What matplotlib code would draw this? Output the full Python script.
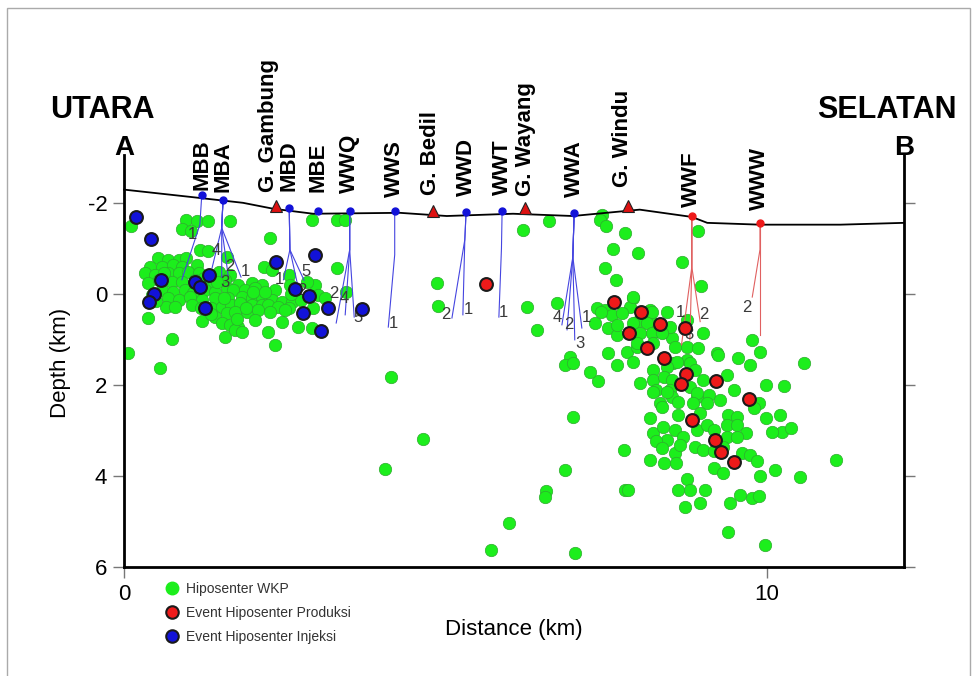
import matplotlib.pyplot as plt
from matplotlib.lines import Line2D
from matplotlib.patches import Rectangle

plt.rcParams['font.family'] = ['Liberation Sans', 'DejaVu Sans']
plt.rcParams['axes.unicode_minus'] = False

# surface profile along section A-B (distance km, depth km; negative = above datum)
topo_x = [0, 1.03, 1.85, 2.32, 2.94, 4.29, 5.02, 6.05, 6.98, 8.02, 8.83, 9.07, 9.89, 11.14, 12.13]
topo_z = [-2.29, -2.13, -2.0, -1.87, -1.76, -1.78, -1.71, -1.76, -1.71, -1.85, -1.69, -1.56, -1.52, -1.52, -1.56]

# well pads
well_names = ['MBB', 'MBA', 'MBD', 'MBE', 'WWQ', 'WWS', 'WWD', 'WWT', 'WWA', 'WWF', 'WWW']
well_x = [1.21, 1.54, 2.57, 3.02, 3.51, 4.21, 5.32, 5.88, 7.00, 8.83, 9.89]
well_z = [-2.18, -2.07, -1.89, -1.82, -1.82, -1.82, -1.80, -1.82, -1.78, -1.71, -1.56]
well_type = ['inj'] * 9 + ['prod'] * 2
well_label_z = [-2.29, -2.24, -2.26, -2.24, -2.22, -2.13, -2.15, -2.18, -2.13, -1.91, -1.85]

# volcanic peaks
peak_names = ['G. Gambung', 'G. Bedil', 'G. Wayang', 'G. Windu']
peak_x = [2.36, 4.81, 6.24, 7.84]
peak_z = [-1.93, -1.82, -1.89, -1.93]
peak_label_x = [2.25, 4.76, 6.25, 7.76]
peak_label_z = [-2.24, -2.18, -2.15, -2.35]

# well tracks: kick-off point, then (number, bottom hole, number position)
tracks = {
    'MBB': ((1.18, -1.52), [('1', (0.90, -0.31), (1.07, -1.30))]),
    'MBA': ((1.52, -1.45), [('4', (1.37, -0.57), (1.43, -0.95)),
                            ('2', (1.62, -0.40), (1.64, -0.60)),
                            ('3', (1.52, -0.37), (1.57, -0.24)),
                            ('1', (1.82, -0.37), (1.89, -0.50))]),
    'MBD': ((2.58, -0.97), [('1', (2.48, -0.31), (2.41, -0.31)),
                            ('5', (2.80, -0.30), (2.83, -0.50)),
                            ('2', (2.70, -0.20), (2.77, -0.08))]),
    'WWQ': ((3.51, -0.97), [('2', (3.30, 0.64), (3.26, 0.0)),
                            ('4', (3.44, 0.46), (3.43, 0.10)),
                            ('5', (3.58, 0.51), (3.64, 0.52))]),
    'WWS': ((4.21, -0.86), [('1', (4.11, 0.73), (4.19, 0.64))]),
    'WWD': ((5.30, -1.19), [('2', (5.10, 0.53), (5.01, 0.46)),
                            ('1', (5.27, 0.46), (5.36, 0.35))]),
    'WWT': ((5.87, -1.00), [('1', (5.83, 0.51), (5.90, 0.42))]),
    'WWA': ((6.98, -0.81), [('4', (6.81, 0.68), (6.73, 0.51)),
                            ('2', (6.89, 0.79), (6.92, 0.68)),
                            ('3', (7.01, 1.01), (7.09, 1.08)),
                            ('1', (7.12, 0.75), (7.19, 0.53))]),
    'WWF': ((8.83, -0.59), [('1', (8.67, 1.12), (8.65, 0.42)),
                            ('3', (8.80, 1.01), (8.79, 0.90)),
                            ('2', (8.96, 0.61), (9.02, 0.46))]),
    'WWW': ((9.89, -0.97), [('2', (9.77, 0.07), (9.69, 0.29)),
                            ('', (9.89, 0.90), None)]),
}

# hypocentres WKP - northern cluster
wkp_n_x = [0.11, 0.96, 1.13, 1.30, 1.65, 0.90, 1.04, 2.27, 1.18, 1.30, 1.60, 0.53, 0.69, 0.85,
           0.97, 0.40, 0.59, 0.77, 0.90, 1.13, 0.32, 0.48, 0.69, 0.85, 1.00, 1.16, 1.47, 1.65,
           2.17, 2.30, 3.31, 0.38, 0.74, 0.90, 1.36, 1.57, 1.78, 1.99, 2.14, 2.56, 2.58, 0.59,
           0.77, 0.95, 1.08, 1.26, 1.42, 1.60, 1.70, 1.88, 2.04, 2.35, 2.97, 2.84, 0.43, 0.69,
           0.85, 1.03, 1.21, 1.42, 1.62, 1.83, 1.99, 2.14, 2.30, 2.45, 2.61, 3.02, 3.13, 0.66,
           0.79, 1.05, 1.36, 1.52, 1.67, 1.80, 1.99, 2.14, 2.24, 2.40, 2.56, 2.76, 0.37, 1.21,
           1.42, 1.60, 1.73, 1.91, 2.09, 2.27, 2.45, 2.94, 1.52, 1.65, 1.78, 2.04, 2.24, 2.71,
           2.92, 0.74, 1.57, 1.73, 1.83, 2.35, 0.07, 0.56, 2.92, 3.31, 3.44, 3.46, 1.10, 1.25,
           1.45, 1.20, 1.90, 2.00, 2.20, 0.55, 0.62, 1.35, 1.55, 1.75, 2.60, 2.50, 0.50]
wkp_n_z = [-1.48, -1.63, -1.61, -1.61, -1.61, -1.43, -1.37, -1.22, -0.97, -0.95, -0.82, -0.78,
           -0.75, -0.75, -0.78, -0.60, -0.60, -0.64, -0.60, -0.64, -0.45, -0.42, -0.45, -0.45,
           -0.49, -0.45, -0.49, -0.42, -0.60, -0.53, -0.56, -0.23, -0.27, -0.27, -0.23, -0.31,
           -0.20, -0.23, -0.20, -0.42, -0.20, -0.09, -0.05, -0.09, -0.01, -0.09, -0.05, -0.12,
           -0.09, -0.09, -0.12, -0.09, -0.20, -0.27, 0.02, 0.10, 0.13, 0.06, 0.13, 0.10, 0.10,
           0.06, 0.10, 0.06, 0.13, 0.17, 0.17, 0.02, 0.10, 0.28, 0.28, 0.24, 0.32, 0.28, 0.24,
           0.21, 0.24, 0.24, 0.24, 0.28, 0.32, 0.13, 0.52, 0.59, 0.50, 0.42, 0.39, 0.39, 0.35,
           0.39, 0.61, 0.32, 0.64, 0.68, 0.72, 0.57, 0.83, 0.72, 0.75, 0.99, 0.94, 0.79, 0.83,
           1.12, 1.30, 1.63, -1.63, -1.63, -1.63, -0.05, -0.30, -0.35, -0.25, 0.30, 0.30, -0.05,
           -0.05, -0.30, -0.45, 0.45, 0.10, 0.55, 0.00, 0.35, 0.15]

# hypocentres WKP - central, scattered
wkp_c_x = [4.86, 4.88, 6.21, 6.61, 6.27, 6.73, 6.43, 6.94, 6.86, 6.99, 4.15, 4.06, 4.65, 5.71,
           5.99, 6.56, 6.55, 6.86, 6.98, 7.01, 7.37, 7.25]
wkp_c_z = [-0.24, 0.26, -1.41, -1.60, 0.29, 0.19, 0.79, 1.38, 1.56, 1.52, 1.82, 3.85, 3.19, 5.63,
           5.03, 4.33, 4.46, 3.87, 2.70, 5.69, 1.91, 1.71]

# hypocentres WKP - southern cluster
wkp_s_x = [7.43, 7.40, 7.50, 7.79, 7.61, 7.99, 7.48, 7.65, 8.93, 8.67, 8.98, 7.92, 7.35, 7.48,
           7.87, 8.18, 8.44, 7.33, 7.53, 7.66, 7.59, 7.74, 7.97, 8.18, 8.23, 8.41, 8.52, 7.82,
           7.97, 8.75, 8.75, 8.93, 9.01, 9.22, 9.55, 9.73, 9.76, 9.89, 10.57, 7.53, 7.66, 8.54,
           8.75, 7.91, 7.66, 7.92, 8.08, 8.21, 8.13, 8.49, 8.02, 8.21, 8.36, 7.97, 8.23, 8.57,
           8.60, 7.92, 8.23, 8.44, 8.80, 8.88, 8.23, 8.39, 8.52, 8.02, 8.28, 8.49, 8.80, 8.91,
           9.09, 9.01, 9.37, 9.24, 9.27, 9.48, 9.99, 10.26, 8.52, 8.62, 8.33, 8.23, 8.44, 8.91,
           9.87, 8.85, 9.06, 8.18, 8.36, 8.62, 8.96, 9.40, 9.53, 9.37, 9.53, 9.79, 9.99, 10.20,
           10.23, 10.38, 10.07, 8.23, 8.38, 8.57, 8.70, 8.44, 8.28, 8.57, 8.36, 8.65, 8.91, 9.06,
           9.17, 9.68, 8.88, 9.01, 9.17, 9.37, 9.53, 9.32, 9.61, 9.74, 9.84, 9.17, 9.32, 10.12,
           9.89, 10.51, 11.08, 7.77, 8.18, 8.39, 8.59, 8.75, 8.80, 8.62, 7.79, 7.84, 9.04, 8.96,
           8.73, 9.43, 9.58, 9.76, 9.88, 9.40, 9.97, 7.42]
wkp_s_z = [-1.74, -1.63, -1.48, -1.33, -0.98, -0.89, -0.56, -0.31, -1.37, -0.69, -0.18, 0.10,
           0.32, 0.35, 0.28, 0.35, 0.39, 0.64, 0.75, 0.90, 0.46, 0.42, 0.61, 0.57, 0.83, 0.83,
           0.97, 1.27, 1.16, 0.57, 1.16, 1.19, 0.86, 1.30, 1.41, 1.56, 1.01, 1.27, 1.51, 1.30,
           1.56, 1.52, 1.45, 0.06, 0.68, 0.64, 0.39, 0.39, 0.64, 0.72, 0.86, 0.86, 0.86, 1.08,
           1.08, 1.16, 1.49, 1.49, 1.67, 1.60, 1.52, 1.67, 1.89, 1.82, 1.89, 1.96, 2.11, 2.11,
           2.04, 2.26, 2.22, 1.89, 1.78, 1.34, 2.33, 2.11, 2.00, 2.02, 2.26, 2.37, 2.40, 2.15,
           2.15, 2.18, 2.40, 2.40, 2.40, 2.73, 2.48, 2.66, 2.62, 2.66, 2.70, 2.88, 2.88, 2.51,
           2.73, 2.66, 3.03, 2.95, 3.03, 3.06, 2.92, 2.99, 3.14, 3.20, 3.24, 3.50, 3.39, 3.32,
           2.99, 2.88, 2.99, 3.06, 3.36, 3.43, 3.46, 3.14, 3.14, 3.36, 3.50, 3.54, 3.68, 3.83,
           3.94, 3.87, 4.00, 4.03, 3.66, 3.43, 3.65, 3.72, 3.72, 4.07, 4.31, 4.31, 4.31, 4.31,
           4.31, 4.60, 4.69, 4.60, 4.42, 4.49, 4.44, 5.22, 5.52, 0.40]

# production-related events
prod_x = [7.62, 8.04, 8.34, 7.85, 8.72, 8.14, 8.39, 8.74, 8.66, 9.20, 9.72, 8.83, 9.19, 9.29,
          9.49, 5.63]
prod_z = [0.18, 0.40, 0.66, 0.85, 0.74, 1.19, 1.40, 1.76, 1.98, 1.92, 2.32, 2.77, 3.22, 3.47,
          3.69, -0.22]

# injection-related events
inj_x = [0.18, 0.42, 0.58, 0.47, 0.39, 1.10, 1.18, 1.32, 1.26, 2.36, 2.97, 2.66, 2.87, 2.78,
         3.17, 3.07, 3.70]
inj_z = [-1.68, -1.20, -0.31, 0.01, 0.18, -0.27, -0.16, -0.42, 0.30, -0.70, -0.86, -0.10, 0.04,
         0.42, 0.30, 0.81, 0.33]

GREEN = '#1cee1c'
BLUE = '#1212d8'
RED = '#ee1a1a'

fig = plt.figure(figsize=(9.77, 6.76), dpi=100)
ax = fig.add_axes([0.1269, 0.1612, 0.7984, 0.6095])

green_x = wkp_n_x + wkp_c_x + wkp_s_x
green_z = wkp_n_z + wkp_c_z + wkp_s_z
ax.scatter(green_x, green_z, s=80, c=GREEN, edgecolors='#2faa2f', linewidths=0.5, zorder=2)

# well tracks
for name, x0, z0, kind in zip(well_names, well_x, well_z, well_type):
    if name not in tracks:
        continue
    kick, branches = tracks[name]
    lc = '#4545e0' if kind == 'inj' else '#e06060'
    for num, end, lab in branches:
        ax.plot([x0, kick[0], end[0]], [z0, kick[1], end[1]], color=lc, lw=0.8, zorder=3)
        if lab is not None:
            ax.text(lab[0], lab[1], num, fontsize=12, color='#3a3a3a',
                    ha='center', va='center', zorder=4)

ax.scatter(prod_x, prod_z, s=85, c=RED, edgecolors='#1a1a1a', linewidths=1.5, zorder=5)
ax.scatter(inj_x, inj_z, s=85, c=BLUE, edgecolors='#1a1a1a', linewidths=1.5, zorder=5)

# topography and surface features
ax.plot(topo_x, topo_z, color='black', lw=1.3, zorder=6, clip_on=False)
for name, x0, z0, kind, lz in zip(well_names, well_x, well_z, well_type, well_label_z):
    ax.plot(x0, z0, 'o', ms=5, color=BLUE if kind == 'inj' else RED, zorder=7)
    ax.text(x0, lz, name, rotation=90, ha='center', va='bottom',
            fontsize=16, fontweight='bold', zorder=7)
for name, x0, z0, lx, lz in zip(peak_names, peak_x, peak_z, peak_label_x, peak_label_z):
    ax.plot(x0, z0, '^', ms=8.5, color='#dd1111', mec='#222222', mew=0.8, zorder=7)
    ax.text(lx, lz, name, rotation=90, ha='center', va='bottom',
            fontsize=16, fontweight='bold', zorder=7)

ax.set_xlim(0, 12.13)
ax.set_ylim(6, -3.05)
ax.spines['top'].set_visible(False)
for s in ('left', 'right', 'bottom'):
    ax.spines[s].set_linewidth(2)
ax.set_xticks([0, 10])
ax.set_yticks([-2, 0, 2, 4, 6])
ax.tick_params(direction='out', length=8, width=1, color='#777777', labelsize=16, pad=4)
ax.tick_params(axis='y', right=True)

ax.set_xlabel('Distance (km)', fontsize=16, labelpad=10)
ax.set_ylabel('Depth (km)', fontsize=16)
ax.yaxis.set_label_coords(-0.068, 0.495)

ax.text(0, -3.05, 'A', ha='center', va='baseline', fontsize=20, fontweight='bold')
ax.text(12.13, -3.05, 'B', ha='center', va='baseline', fontsize=20, fontweight='bold')
fig.text(0.0512, 0.8254, 'UTARA', ha='left', va='baseline', fontsize=22, fontweight='bold')
fig.text(0.9795, 0.8254, 'SELATAN', ha='right', va='baseline', fontsize=22, fontweight='bold')

handles = [
    Line2D([], [], ls='', marker='o', ms=9, mfc=GREEN, mec=GREEN),
    Line2D([], [], ls='', marker='o', ms=9, mfc=RED, mec='#1a1a1a', mew=1.5),
    Line2D([], [], ls='', marker='o', ms=9, mfc=BLUE, mec='#1a1a1a', mew=1.5),
]
labels = ['Hiposenter WKP', 'Event Hiposenter Produksi', 'Event Hiposenter Injeksi']
leg = fig.legend(handles, labels, loc='upper left', bbox_to_anchor=(0.169, 0.139),
                 frameon=False, fontsize=10, handlelength=1.0, handletextpad=0.5,
                 labelspacing=0.72, borderpad=0, borderaxespad=0)
for t in leg.get_texts():
    t.set_color('#333333')

fig.add_artist(Rectangle((0.007, -0.1), 0.986, 1.088, transform=fig.transFigure,
                         fill=False, edgecolor='#aaaaaa', lw=1))

fig.savefig('out.png', dpi=100)
